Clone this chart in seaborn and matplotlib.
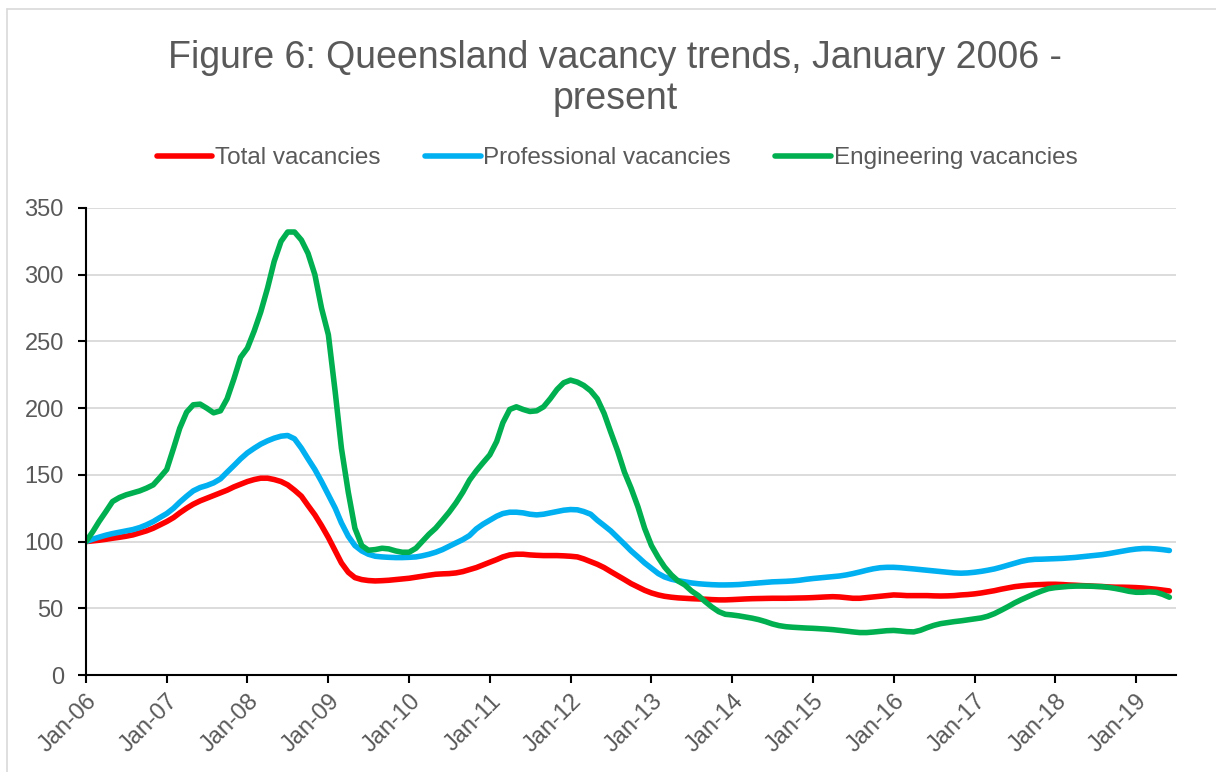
import matplotlib
matplotlib.use("Agg")
import matplotlib.pyplot as plt
import numpy as np
import pandas as pd
import seaborn as sns
from matplotlib.lines import Line2D

# ---------------- data ----------------
months = pd.date_range("2006-01-01", "2019-06-01", freq="MS")

total_vacancies = [
    100, 100.5, 101, 101.7, 102.5, 103.2, 104, 105, 106.5, 108, 110, 112.5,
    115, 118, 121.5, 125, 128, 130.5, 132.5, 134.5, 136.5, 138.5, 141, 143,
    145, 146.5, 147.5, 147.5, 146.5, 145, 142.5, 138.5, 134, 127, 120, 112,
    103, 93, 84, 77, 73, 71.5, 70.8, 70.5, 70.7, 71, 71.5, 72,
    72.5, 73.3, 74, 74.8, 75.5, 75.8, 76, 76.5, 77.5, 79, 80.5, 82.5,
    84.5, 86.5, 88.5, 90, 90.5, 90.5, 90, 89.7, 89.5, 89.5, 89.5, 89.3,
    89, 88.5, 87, 85, 83, 80.5, 77.5, 74.5, 71.5, 68.5, 66, 63.5,
    61.5, 60, 59, 58.3, 57.8, 57.5, 57.2, 57, 56.8, 56.5, 56.3, 56.3,
    56.5, 56.8, 57, 57.2, 57.3, 57.4, 57.5, 57.5, 57.5, 57.6, 57.7, 57.8,
    58, 58.3, 58.5, 58.7, 58.5, 58, 57.5, 57.5, 58, 58.5, 59, 59.5,
    60, 59.8, 59.5, 59.5, 59.5, 59.5, 59.3, 59.2, 59.3, 59.5, 60, 60.3,
    60.8, 61.5, 62.3, 63.2, 64.3, 65.3, 66.2, 66.8, 67.3, 67.6, 67.8, 68,
    68, 67.8, 67.5, 67.3, 67, 66.8, 66.5, 66.3, 66, 65.8, 65.8, 65.7,
    65.5, 65.2, 64.8, 64.3, 63.7, 63,
]

professional_vacancies = [
    100, 101.8, 103.3, 104.8, 106, 107, 108, 109, 110.5, 112.5, 115, 118,
    121, 125, 129.5, 134, 138, 140.5, 142, 144, 147, 152, 157, 162,
    166.5, 170, 173, 175.5, 177.5, 179, 179.5, 177, 170, 162, 154, 145,
    135, 125, 114, 104, 97, 93, 90.5, 89, 88.5, 88.2, 88, 88,
    88.2, 88.5, 89.3, 90.5, 92, 94, 96.5, 99, 101.5, 104.5, 109.5, 113,
    116, 119, 121, 122, 122, 121.5, 120.5, 120, 120.5, 121.5, 122.5, 123.5,
    124, 123.8, 122.5, 120.5, 116, 112, 108, 103, 98, 93, 88.5, 84,
    80, 76, 73.5, 71.8, 70.7, 69.8, 69, 68.4, 68, 67.7, 67.5, 67.5,
    67.6, 67.8, 68.2, 68.6, 69, 69.4, 69.8, 70, 70.2, 70.5, 71, 71.7,
    72.3, 72.8, 73.3, 73.7, 74.2, 75, 76, 77.2, 78.5, 79.6, 80.4, 80.7,
    80.7, 80.4, 80, 79.5, 79, 78.5, 78, 77.4, 76.9, 76.5, 76.3, 76.5,
    77, 77.7, 78.5, 79.5, 80.8, 82.3, 83.8, 85.2, 86.2, 86.7, 86.8, 87,
    87.2, 87.4, 87.7, 88.1, 88.6, 89.1, 89.6, 90.2, 91, 91.9, 92.8, 93.7,
    94.4, 94.8, 94.8, 94.5, 94, 93.3,
]

engineering_vacancies = [
    100, 107.5, 115, 122.5, 130, 133, 135, 136.5, 138, 140, 142.5, 148,
    154, 170, 185, 197, 202.5, 203, 200, 196.5, 198, 207, 222, 238,
    245, 258, 272, 290, 310, 325, 332, 332, 326, 316, 300, 275,
    255, 212, 170, 137, 110, 97, 93.5, 94, 95, 94.5, 93, 92,
    92, 95, 100, 105.5, 110, 116, 122, 129, 137, 146, 153, 159,
    165, 175, 189, 199, 201, 199, 197.5, 198, 201, 207, 214, 219,
    221, 219.5, 217, 213, 207, 196, 182, 168, 152, 140, 126, 110,
    97, 88, 81, 75, 70.5, 67.5, 63, 59.5, 55, 51, 47.5, 45.5,
    45, 44.3, 43.5, 42.6, 41.5, 40, 38.3, 37, 36.2, 35.8, 35.5, 35.2,
    35, 34.7, 34.4, 34, 33.5, 32.9, 32.3, 31.8, 31.8, 32.2, 32.7, 33.2,
    33.4, 33, 32.5, 32.3, 33.5, 35.5, 37.2, 38.5, 39.3, 40, 40.6, 41.3,
    42, 42.8, 44, 46, 48.5, 51.2, 54, 56.5, 58.8, 61, 63, 64.7,
    65.5, 66, 66.4, 66.6, 66.7, 66.6, 66.4, 66.2, 65.6, 64.8, 63.8, 62.7,
    62, 62, 62.3, 62, 60.5, 58.3,
]

series_names = ["Total vacancies", "Professional vacancies", "Engineering vacancies"]
series_colors = ["#FF0000", "#00B0F0", "#00B050"]
y_ticks = [0, 50, 100, 150, 200, 250, 300, 350]
x_tick_years = list(range(2006, 2020))
x_tick_labels = ["Jan-06", "Jan-07", "Jan-08", "Jan-09", "Jan-10", "Jan-11", "Jan-12",
                 "Jan-13", "Jan-14", "Jan-15", "Jan-16", "Jan-17", "Jan-18", "Jan-19"]
title_text = "Figure 6: Queensland vacancy trends, January 2006 -\npresent"

# ---------------- build long table ----------------
df = pd.concat([
    pd.DataFrame({"Month": months, "Value": vals, "Series": name})
    for name, vals in zip(series_names, [total_vacancies, professional_vacancies, engineering_vacancies])
], ignore_index=True)

# ---------------- style ----------------
sns.set_theme(style="white")
plt.rcParams["font.family"] = ["Liberation Sans", "DejaVu Sans"]
TXT = "#595959"

W, H = 1216, 772
fig = plt.figure(figsize=(W / 100, H / 100), dpi=100)
ax = fig.add_axes([86 / W, 1 - 675 / H, (1176 - 86) / W, (675 - 208) / H])

sns.lineplot(data=df, x="Month", y="Value", hue="Series", hue_order=series_names,
             palette=series_colors, linewidth=4.0, estimator=None, errorbar=None,
             ax=ax, legend="auto", solid_capstyle="round", solid_joinstyle="round")

handles, labels = ax.get_legend_handles_labels()
ax.get_legend().remove()

ax.set_ylim(0, 350)
ax.set_yticks(y_ticks)
ax.set_xlim(pd.Timestamp("2006-01-01"), pd.Timestamp("2019-07-01"))
ax.set_xticks([pd.Timestamp(f"{y}-01-01") for y in x_tick_years])
ax.set_xticklabels(x_tick_labels, rotation=45, ha="right", va="top", rotation_mode="anchor")
ax.set_xlabel("")
ax.set_ylabel("")

ax.grid(axis="y", color="#D9D9D9", linewidth=1.3)
ax.grid(axis="x", visible=False)
ax.set_axisbelow(True)
for s in ["top", "right"]:
    ax.spines[s].set_visible(False)
for s in ["left", "bottom"]:
    ax.spines[s].set_color("#000000")
    ax.spines[s].set_linewidth(1.5)

ax.tick_params(axis="both", which="major", direction="out", length=6, width=1.5,
               color="#000000", labelsize=17, labelcolor=TXT)
ax.tick_params(axis="x", pad=5)
ax.tick_params(axis="y", pad=10)
ax.tick_params(axis="both", bottom=True, left=True)

fig.text(615 / W, 1 - 40 / H, title_text, ha="center", va="top", fontsize=27,
         color=TXT, linespacing=1.18)

fig.legend(handles, labels, loc="center", bbox_to_anchor=(617 / W, 1 - 158 / H),
           ncol=3, frameon=False, fontsize=17.5, handlelength=2.3, handletextpad=0.12,
           columnspacing=1.8, labelcolor=TXT)

# chart-area border (light grey)
fig.add_artist(Line2D([7 / W, 7 / W], [0, 1 - 9 / H], color="#D9D9D9", linewidth=1.2,
                      transform=fig.transFigure))
fig.add_artist(Line2D([7 / W, 1], [1 - 9 / H, 1 - 9 / H], color="#D9D9D9", linewidth=1.2,
                      transform=fig.transFigure))

fig.savefig("out.png", dpi=100)
